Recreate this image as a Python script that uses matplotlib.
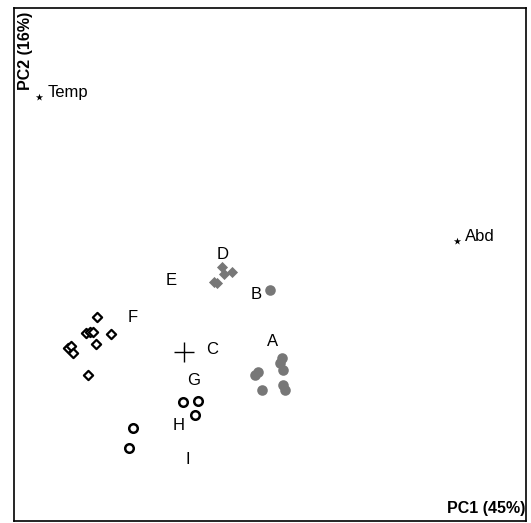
import matplotlib.pyplot as plt

plt.rcParams["font.family"] = ["Liberation Sans", "DejaVu Sans"]

# PCA scores (arbitrary units, axes span 0..100)
var_x, var_y = [4.9, 86.5], [82.7, 54.6]
var_names = ["Temp", "Abd"]

d_x = [40.6, 41.0, 42.6, 39.1, 39.6]
d_y = [49.5, 48.1, 48.5, 46.6, 46.4]
b_x, b_y = [50.0], [45.0]
a_x = [47.7, 47.1, 52.3, 52.0, 52.5, 48.4, 52.5, 52.9]
a_y = [29.0, 28.5, 31.8, 30.8, 29.4, 25.5, 26.5, 25.5]
f_x = [16.2, 14.1, 14.8, 15.4, 18.9, 10.5, 11.1, 11.5, 16.0, 14.5]
f_y = [39.8, 36.6, 36.8, 36.8, 36.5, 33.7, 34.1, 32.7, 34.5, 28.5]
g_x = [33.0, 35.9, 35.4]
g_y = [23.2, 23.4, 20.7]
i_x = [23.2, 22.5]
i_y = [18.1, 14.2]
c_x, c_y = [33.2], [32.9]

group_labels = ["D", "B", "E", "F", "C", "A", "G", "H", "I"]
label_x = [40.8, 47.3, 30.7, 23.2, 38.7, 50.4, 35.0, 32.2, 34.0]
label_y = [51.9, 44.1, 46.8, 39.6, 33.5, 34.9, 27.3, 18.7, 11.9]

grey = "#777777"

fig = plt.figure(figsize=(5.31, 5.23), dpi=100)
ax = fig.add_axes([14 / 531, 2 / 523, 512 / 531, 513 / 523])
ax.set_xlim(0, 100)
ax.set_ylim(0, 100)
ax.set_xticks([])
ax.set_yticks([])
for s in ax.spines.values():
    s.set_linewidth(1.2)

ax.scatter(var_x, var_y, marker="*", s=30, color="black", linewidths=0)
for x, y, n in zip(var_x, var_y, var_names):
    ax.text(x + 1.6, y + 0.9, n, fontsize=12, ha="left", va="center")

ax.scatter(d_x, d_y, marker="D", s=32, color=grey, linewidths=0)
ax.scatter(b_x, b_y, marker="o", s=58, color=grey, linewidths=0)
ax.scatter(a_x, a_y, marker="o", s=58, color=grey, linewidths=0)
ax.scatter(f_x, f_y, marker="D", s=22, facecolors="white", edgecolors="black", linewidths=1.6)
ax.scatter(g_x, g_y, marker="o", s=38, facecolors="white", edgecolors="black", linewidths=1.8)
ax.scatter(i_x, i_y, marker="o", s=38, facecolors="white", edgecolors="black", linewidths=1.8)
ax.scatter(c_x, c_y, marker="+", s=220, color="black", linewidths=1.0)

for x, y, n in zip(label_x, label_y, group_labels):
    ax.text(x, y, n, fontsize=12, ha="center", va="center")

ax.text(99.8, 0.9, "PC1 (45%)", fontsize=11.5, fontweight="bold", ha="right", va="bottom")
ax.text(0.7, 99.2, "PC2 (16%)", fontsize=11.5, fontweight="bold", ha="left", va="top", rotation=90)

fig.savefig("out.png", dpi=100)
